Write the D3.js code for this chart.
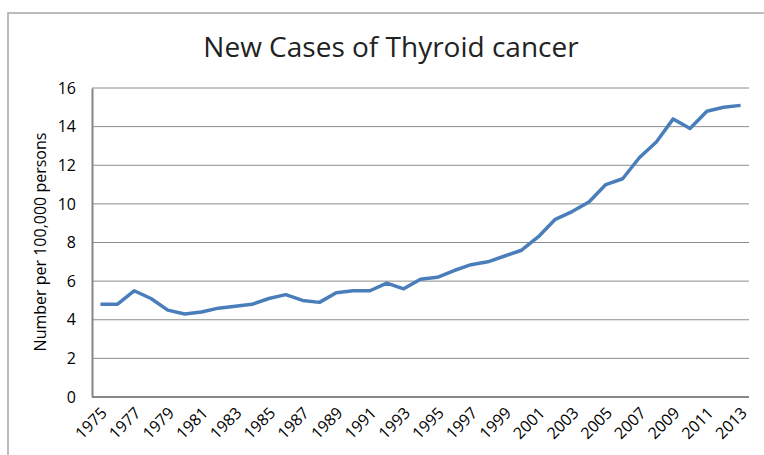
<!DOCTYPE html>
<html>
<head>
<meta charset="utf-8">
<script src="https://cdn.jsdelivr.net/npm/d3@7"></script>
<style>
  body { margin: 0; background: #fff; }
  text { font-family: 'Open Sans', sans-serif; fill: #000; }
</style>
</head>
<body>
<div id="plot-thyroid"></div>
<script>
// Data
let years = d3.range(1975, 2014)
let rates = [4.8, 4.8, 5.5, 5.1, 4.5, 4.3, 4.4, 4.6, 4.7, 4.8,
  5.1, 5.3, 5.0, 4.9, 5.4, 5.5, 5.5, 5.9, 5.6, 6.1,
  6.2, 6.55, 6.85, 7.0, 7.3, 7.6, 8.3, 9.2, 9.6, 10.1,
  11.0, 11.3, 12.4, 13.2, 14.4, 13.9, 14.8, 15.0, 15.1]
let yTicks = [0, 2, 4, 6, 8, 10, 12, 14, 16]
let titleText = 'New Cases of Thyroid cancer'
let yLabel = 'Number per 100,000 persons'

// Plot constants
let W = 764, H = 455
let margin = {t: 88, r: 15, b: 58, l: 92}
let width = W - margin.l - margin.r
let height = H - margin.t - margin.b

let svg = d3.select('#plot-thyroid')
  .append('svg')
  .attr('width', W)
  .attr('height', H)

// Outer chart border (runs off the right and bottom of the picture)
svg.append('rect')
  .attr('x', 8)
  .attr('y', 13)
  .attr('width', W + 10)
  .attr('height', H + 10)
  .style('fill', 'none')
  .style('stroke', '#a6a6a6')
  .style('stroke-width', 1.5)

let plot = svg.append('g')
  .attr('transform', `translate(${margin.l},${margin.t})`)

// Scales
let x = d3.scalePoint()
  .domain(years)
  .range([0, width])
  .padding(0.5)

let y = d3.scaleLinear()
  .domain([0, 16])
  .range([height, 0])

// Gridlines
plot.append('g')
  .selectAll('line')
  .data(yTicks.filter(function(d){ return d > 0 }))
  .enter().append('line')
  .attr('x1', 0)
  .attr('x2', width)
  .attr('y1', function(d){ return y(d) })
  .attr('y2', function(d){ return y(d) })
  .style('stroke', '#8c8c8c')
  .style('stroke-width', 1)

// Y axis
let yAxis = d3.axisLeft(y)
  .tickValues(yTicks)
  .tickSize(0)
  .tickPadding(16)

let gy = plot.append('g').call(yAxis)
gy.select('.domain').style('stroke', '#868686').style('stroke-width', 2)
gy.selectAll('text').style('font-size', '16px').style('font-family', 'Open Sans')

// X axis
let xAxis = d3.axisBottom(x)
  .tickValues(years.filter(function(d){ return (d - 1975) % 2 === 0 }))
  .tickSize(0)
  .tickSizeOuter(0)

let gx = plot.append('g')
  .attr('transform', `translate(0,${height})`)
  .call(xAxis)
gx.select('.domain')
  .attr('d', `M0,0H${width}`)
  .style('stroke', '#868686').style('stroke-width', 2)
gx.selectAll('text')
  .style('font-size', '16px')
  .style('font-family', 'Open Sans')
  .attr('text-anchor', 'end')
  .attr('dy', null)
  .attr('y', 0)
  .attr('transform', 'translate(7,17) rotate(-45)')

// Line
let line = d3.line()
  .x(function(d, i){ return x(years[i]) })
  .y(function(d){ return y(d) })

plot.append('path')
  .datum(rates)
  .attr('d', line)
  .style('fill', 'none')
  .style('stroke', '#4a7ebb')
  .style('stroke-width', 3.5)
  .style('stroke-linejoin', 'round')

// Title
svg.append('text')
  .attr('x', 391)
  .attr('y', 57)
  .attr('text-anchor', 'middle')
  .style('font-size', '28px')
  .style('fill', '#222')
  .text(titleText)

// Y label
svg.append('text')
  .attr('transform', 'translate(46,242) rotate(-90)')
  .attr('text-anchor', 'middle')
  .style('font-size', '16px')
  .text(yLabel)
</script>
</body>
</html>
